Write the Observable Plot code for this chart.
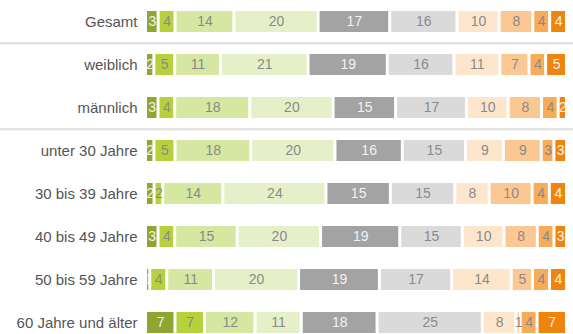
<!DOCTYPE html>
<html>
<head>
<meta charset="utf-8">
<script src="https://cdn.jsdelivr.net/npm/d3@7"></script>
<script src="https://cdn.jsdelivr.net/npm/@observablehq/plot@0.6"></script>
<style>
  html, body { margin: 0; padding: 0; background: #fff; }
  #chart svg { display: block; font-family: "Liberation Sans", Arial, sans-serif; }
</style>
</head>
<body>
<div id="chart"></div>
<script>
const rows = ["Gesamt", "weiblich", "männlich", "unter 30 Jahre", "30 bis 39 Jahre", "40 bis 49 Jahre", "50 bis 59 Jahre", "60 Jahre und älter"];
const cats = ["c1", "c2", "c3", "c4", "c5", "c6", "c7", "c8", "c9", "c10"];
const colors = ["#8fa632", "#b7d13c", "#d5e7a1", "#e6f0c8", "#a3a3a3", "#dadada", "#fde6cc", "#fbc894", "#f8ab58", "#ef840f"];
const darkCats = ["c1", "c5", "c10"];
const values = [
  [3, 4, 14, 20, 17, 16, 10, 8, 4, 4],
  [2, 5, 11, 21, 19, 16, 11, 7, 4, 5],
  [3, 4, 18, 20, 15, 17, 10, 8, 4, 2],
  [2, 5, 18, 20, 16, 15, 9, 9, 3, 3],
  [2, 2, 14, 24, 15, 15, 8, 10, 4, 4],
  [3, 4, 15, 20, 19, 15, 10, 8, 4, 3],
  [1, 4, 11, 20, 19, 17, 14, 5, 4, 4],
  [7, 7, 12, 11, 18, 25, 8, 1, 4, 7]
];
const separators = ["weiblich", "unter 30 Jahre"];

const data = [];
rows.forEach((r, i) => values[i].forEach((v, j) => data.push({row: r, cat: cats[j], v})));

const stackOpts = {x: "v", y: "row", z: "cat", offset: "normalize"};

const chart = Plot.plot({
  width: 573,
  height: 334,
  marginLeft: 0,
  marginRight: 0,
  marginTop: 0,
  marginBottom: 0,
  style: {fontFamily: "'Liberation Sans', Arial, sans-serif", background: "#fff"},
  x: {domain: [0, 1], range: [147, 568], axis: null},
  y: {domain: rows, range: [9, 334.5], paddingInner: 0.517, paddingOuter: 0, axis: null},
  color: {domain: cats, range: colors},
  marks: [
    Plot.ruleY(separators, {stroke: "#dcdcdc", strokeWidth: 2, dy: -21.75}),
    Plot.barX(data, Plot.stackX({...stackOpts, fill: "cat", insetRight: 3})),
    Plot.text(data, Plot.stackX({...stackOpts, text: d => darkCats.includes(d.cat) ? "" : d.v, fill: "#8a8a8a", fontSize: 14, dx: -1.5})),
    Plot.text(data, Plot.stackX({...stackOpts, text: d => darkCats.includes(d.cat) ? d.v : "", fill: "#f2f2f2", fontSize: 14, dx: -1.5})),
    Plot.text(rows, {x: () => 0, y: d => d, text: d => d, textAnchor: "end", dx: -10, fontSize: 15, fill: "#555"})
  ]
});
document.getElementById("chart").appendChild(chart);
</script>
</body>
</html>
